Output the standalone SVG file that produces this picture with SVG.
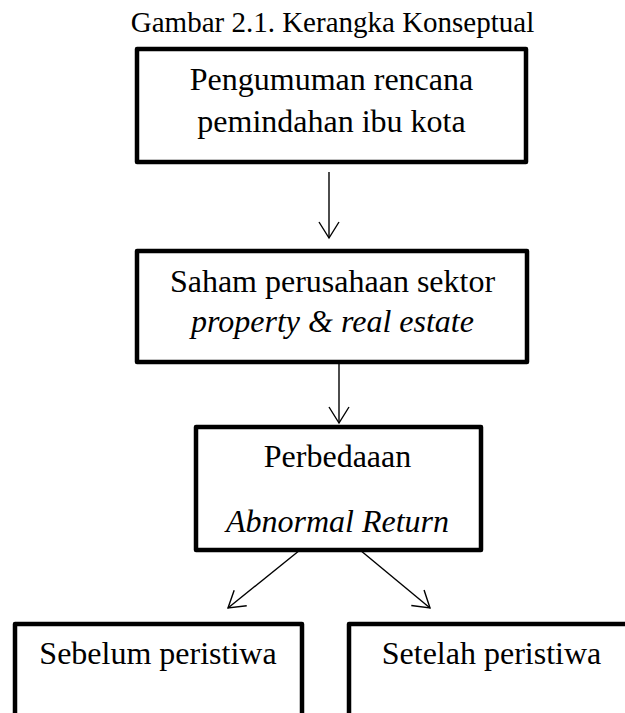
<svg xmlns="http://www.w3.org/2000/svg" width="625" height="713" viewBox="0 0 625 713">
<style>
.box{fill:#fff;stroke:#000;stroke-width:4.5;stroke-linejoin:round}
.t{font-family:"Liberation Serif","Times New Roman",serif;font-size:32px;fill:#000;text-anchor:middle}
.i{font-style:italic}
.title{font-family:"Liberation Serif","Times New Roman",serif;font-size:29px;fill:#000;text-anchor:middle}
.c{stroke:#000;stroke-width:1.4;fill:none}
</style>
<defs>
<marker id="ah" viewBox="-18 -11 20 22" refX="0" refY="0" markerWidth="20" markerHeight="22" markerUnits="userSpaceOnUse" orient="auto">
<path d="M-16,-10 L0,0 L-16,10" fill="none" stroke="#000" stroke-width="1.4"/>
</marker>
</defs>
<rect width="625" height="713" fill="#fff"/>
<text class="title" x="332.5" y="32">Gambar 2.1. Kerangka Konseptual</text>
<g id="n1">
<rect class="box" x="137" y="49" width="389" height="113"/>
<text class="t" x="331.5" y="90">Pengumuman rencana</text>
<text class="t" x="331.5" y="132">pemindahan ibu kota</text>
</g>
<g id="n2">
<rect class="box" x="137" y="251" width="390" height="111"/>
<text class="t" x="332.5" y="292">Saham perusahaan sektor</text>
<text class="t i" x="332.5" y="332">property &amp; real estate</text>
</g>
<g id="n3">
<rect class="box" x="196" y="427" width="285" height="123"/>
<text class="t" x="337.5" y="467">Perbedaaan</text>
<text class="t i" x="337.5" y="532">Abnormal Return</text>
</g>
<g id="n4">
<rect class="box" x="15" y="624" width="287" height="110"/>
<text class="t" x="158" y="664">Sebelum peristiwa</text>
</g>
<g id="n5">
<rect class="box" x="349" y="624" width="285" height="110"/>
<text class="t" x="491.5" y="664">Setelah peristiwa</text>
</g>
<g id="connectors">
<line class="c" x1="329" y1="172" x2="329" y2="238" marker-end="url(#ah)"/>
<line class="c" x1="339" y1="362" x2="339" y2="423" marker-end="url(#ah)"/>
<line class="c" x1="300" y1="550" x2="228" y2="608" marker-end="url(#ah)"/>
<line class="c" x1="360" y1="550" x2="430" y2="608" marker-end="url(#ah)"/>
</g>
</svg>
